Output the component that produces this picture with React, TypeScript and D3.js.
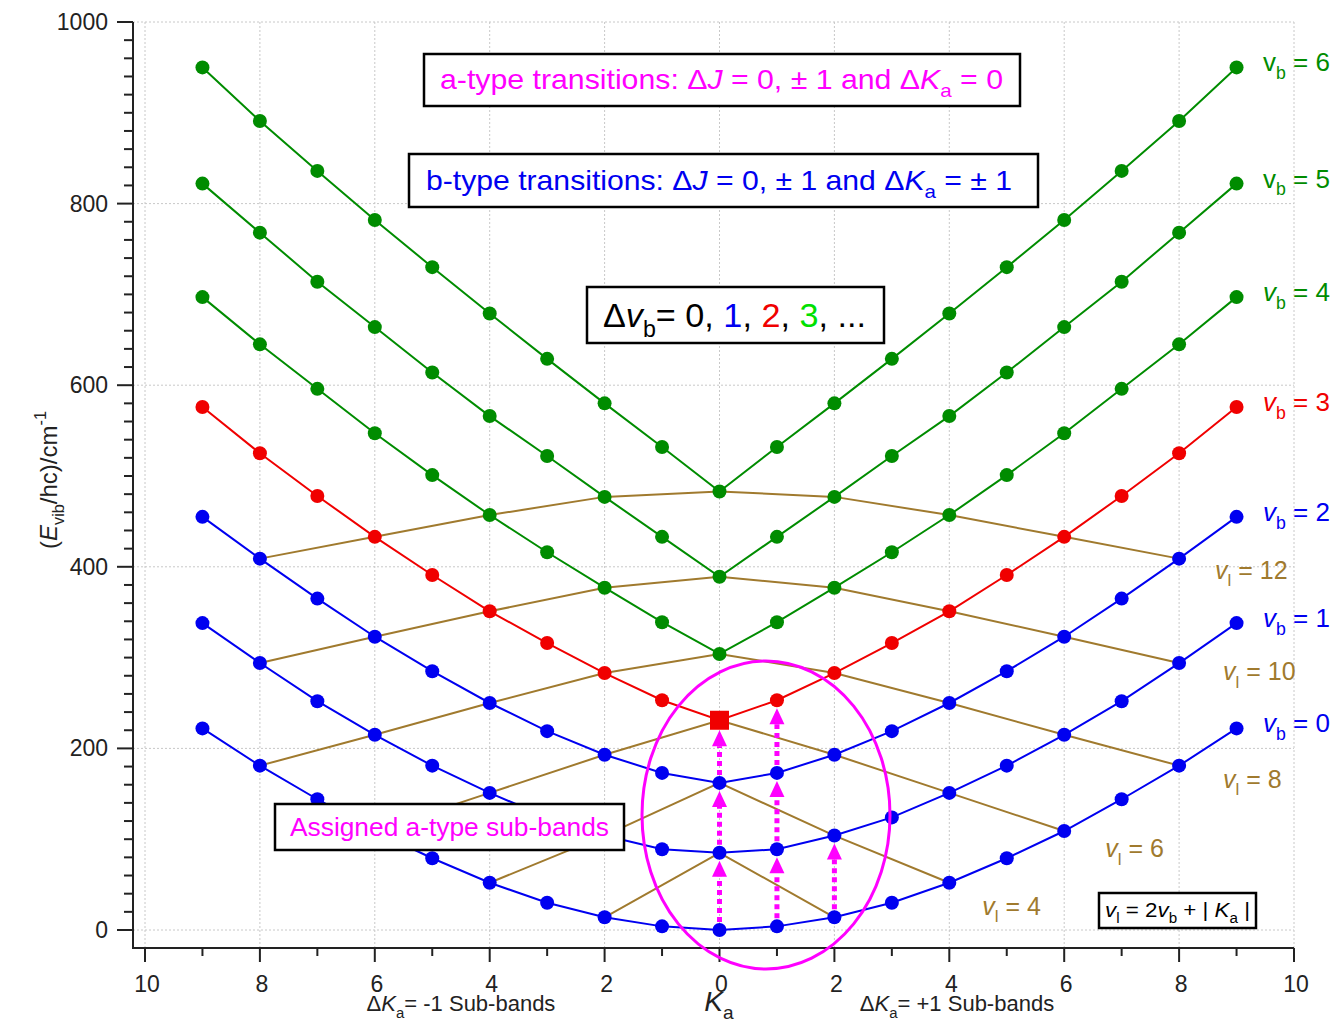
import React from 'react';
import * as d3 from 'd3';

// energy levels (cm-1) for |Ka| = 0..9, one array per vb
const kaValues = [0, 1, 2, 3, 4, 5, 6, 7, 8, 9];
const levelsVb0 = [0, 4, 14, 30, 52, 79, 109, 144, 181, 222];
const levelsVb1 = [85, 89, 104, 124, 151, 181, 215, 252, 294, 338];
const levelsVb2 = [162, 173, 193, 219, 250, 285, 323, 365, 409, 455];
const levelsVb3 = [231, 253, 283, 316, 351, 391, 433, 478, 525, 576];
const levelsVb4 = [304, 339, 377, 416, 457, 501, 547, 596, 645, 697];
const levelsVb5 = [389, 433, 477, 522, 566, 614, 664, 714, 768, 822];
const levelsVb6 = [483, 532, 580, 629, 679, 730, 782, 836, 891, 950];

const vlValues = [2, 4, 6, 8, 10, 12];
const vlLabelled = [4, 6, 8, 10, 12];

// assigned a-type sub-bands: arrow at Ka from vb to vb+1
const arrowKa = [0, 0, 0, 1, 1, 1, 2];
const arrowFromVb = [0, 1, 2, 0, 1, 2, 0];

const xTicks = d3.range(-10, 11, 1);
const yTicks = d3.range(0, 1001, 200);
const yMinorTicks = d3.range(0, 1001, 20);

const BLUE = '#0000f0';
const RED = '#f00000';
const GREEN = '#008c00';
const BROWN = '#a07a2e';
const MAGENTA = '#ff00ff';
const FONT = 'Liberation Sans, Arial, sans-serif';

const levels = [levelsVb0, levelsVb1, levelsVb2, levelsVb3, levelsVb4, levelsVb5, levelsVb6];
const vbColors = [BLUE, BLUE, BLUE, RED, GREEN, GREEN, GREEN];

// label placement (pixel offsets from the series end point)
const vlLabelOffset: Record<number, [number, number]> = {
  4: [33, 32], 6: [41, 26], 8: [44, 22], 10: [44, 17], 12: [36, 20],
};

const x = d3.scaleLinear().domain([-10, 10]).range([145, 1294]);
const y = d3.scaleLinear().domain([0, 1000]).range([930, 22]);
const axisLeft = 133;
const axisBottom = 948;

const line = d3.line<[number, number]>().x(d => x(d[0])).y(d => y(d[1]));

function seriesPoints(arr: number[]): [number, number][] {
  const left = kaValues.slice(1).reverse().map(k => [-k, arr[k]] as [number, number]);
  const right = kaValues.map(k => [k, arr[k]] as [number, number]);
  return [...left, ...right];
}

function vlPoints(vl: number): [number, number][] {
  const pts: [number, number][] = [];
  for (let k = -8; k <= 8; k += 2) {
    const vb = (vl - Math.abs(k)) / 2;
    if (vb >= 0 && vb < levels.length) pts.push([k, levels[vb][Math.abs(k)]]);
  }
  return pts;
}

type Part = { t: string; sub?: boolean; sup?: boolean; it?: boolean; fill?: string };

function Rich(props: {
  x: number; y: number; size: number; parts: Part[]; fill?: string;
  anchor?: string; length?: number; transform?: string;
}) {
  const { size } = props;
  let shift = 0;
  return (
    <text x={props.x} y={props.y} fontSize={size} fill={props.fill || '#000'}
      textAnchor={props.anchor || 'start'} fontFamily={FONT}
      textLength={props.length} lengthAdjust={props.length ? 'spacingAndGlyphs' : undefined}
      transform={props.transform}>
      {props.parts.map((p, i) => {
        const target = p.sub ? size * 0.3 : p.sup ? -size * 0.45 : 0;
        const dy = target - shift;
        shift = target;
        return (
          <tspan key={i} dy={dy} fontSize={p.sub || p.sup ? size * 0.68 : undefined}
            fontStyle={p.it ? 'italic' : undefined} fill={p.fill}>{p.t}</tspan>
        );
      })}
    </text>
  );
}

function Box(props: { x: number; y: number; w: number; h: number }) {
  return <rect x={props.x} y={props.y} width={props.w} height={props.h}
    fill="#fff" stroke="#000" strokeWidth={2.5} />;
}

export default function App() {
  const r = 7;
  return (
    <svg width={1336} height={1019} style={{ position: 'absolute', left: 0, top: 0, background: '#fff' }}>
      {/* grid */}
      <g stroke="#c8c8c8" strokeWidth={1} strokeDasharray="2 2">
        {xTicks.filter(t => t % 2 === 0).map(t => (
          <line key={'gx' + t} x1={x(t)} x2={x(t)} y1={y(1000)} y2={axisBottom} />
        ))}
        {yTicks.map(t => (
          <line key={'gy' + t} x1={axisLeft} x2={x(10)} y1={y(t)} y2={y(t)} />
        ))}
      </g>

      {/* axes */}
      <g stroke="#222" strokeWidth={2}>
        <line x1={axisLeft} x2={axisLeft} y1={y(1000)} y2={axisBottom + 1} />
        <line x1={axisLeft - 1} x2={x(10)} y1={axisBottom} y2={axisBottom} />
        {yMinorTicks.map(t => (
          <line key={'yt' + t} x1={axisLeft - (t % 200 === 0 ? 16 : 9)} x2={axisLeft} y1={y(t)} y2={y(t)} />
        ))}
        {xTicks.map(t => (
          <line key={'xt' + t} x1={x(t)} x2={x(t)} y1={axisBottom} y2={axisBottom + (t % 2 === 0 ? 14 : 8)} />
        ))}
      </g>
      <g fontFamily={FONT} fontSize={23} fill="#222">
        {yTicks.map(t => (
          <text key={'yl' + t} x={axisLeft - 25} y={y(t) + 8} textAnchor="end">{t}</text>
        ))}
        {xTicks.filter(t => t % 2 === 0).map(t => (
          <text key={'xl' + t} x={x(t) + 2} y={992} textAnchor="middle">{Math.abs(t)}</text>
        ))}
      </g>
      <Rich x={0} y={0} size={24} anchor="middle" transform="translate(57,480) rotate(-90)" fill="#222"
        parts={[{ t: '(' }, { t: 'E', it: true }, { t: 'vib', sub: true }, { t: '/hc)/cm' }, { t: '-1', sup: true }]} />
      <Rich x={461} y={1011} size={22} anchor="middle" fill="#222"
        parts={[{ t: 'Δ' }, { t: 'K', it: true }, { t: 'a', sub: true }, { t: '= -1 Sub-bands' }]} />
      <Rich x={957} y={1011} size={22} anchor="middle" fill="#222"
        parts={[{ t: 'Δ' }, { t: 'K', it: true }, { t: 'a', sub: true }, { t: '= +1 Sub-bands' }]} />
      <Rich x={719} y={1011} size={28} anchor="middle" fill="#222"
        parts={[{ t: 'K', it: true }, { t: 'a', sub: true }]} />

      {/* constant vl lines */}
      <g fill="none" stroke={BROWN} strokeWidth={2}>
        {vlValues.map(vl => <path key={'vl' + vl} d={line(vlPoints(vl)) || ''} />)}
      </g>

      {/* vb series */}
      {levels.map((arr, vb) => (
        <g key={'vb' + vb}>
          <path d={line(seriesPoints(arr)) || ''} fill="none" stroke={vbColors[vb]} strokeWidth={2} />
          {seriesPoints(arr).map(([k, e]) => (
            vb === 3 && k === 0
              ? <rect key={k} x={x(k) - 9.5} y={y(e) - 9.5} width={19} height={19} fill={vbColors[vb]} />
              : <circle key={k} cx={x(k)} cy={y(e)} r={r} fill={vbColors[vb]} />
          ))}
        </g>
      ))}

      {/* arrows */}
      {arrowKa.map((k, i) => {
        const vb = arrowFromVb[i];
        const xs = x(k);
        const y0 = y(levels[vb][k]) - 8;
        const tip = y(levels[vb + 1][k]) + (vb + 1 === 3 && k === 0 ? 10 : 8);
        const base = tip + 16;
        return (
          <g key={'ar' + i}>
            <line x1={xs} x2={xs} y1={y0} y2={base} stroke={MAGENTA} strokeWidth={5} strokeDasharray="5 4" />
            <path d={`M${xs},${tip}L${xs - 7.5},${base}L${xs + 7.5},${base}Z`} fill={MAGENTA} />
          </g>
        );
      })}

      <ellipse cx={766} cy={815} rx={124} ry={154} fill="none" stroke={MAGENTA} strokeWidth={3} />

      {/* series labels */}
      {levels.map((arr, vb) => (
        <Rich key={'lb' + vb} x={1263} y={y(arr[9]) + 4} size={26} fill={vbColors[vb]}
          parts={[{ t: 'v', it: vb < 5 }, { t: 'b', sub: true }, { t: ` = ${vb}` }]} />
      ))}
      {vlLabelled.map(vl => {
        const pts = vlPoints(vl);
        const end = pts[pts.length - 1];
        const off = vlLabelOffset[vl];
        return (
          <Rich key={'vll' + vl} x={x(end[0]) + off[0]} y={y(end[1]) + off[1]} size={25} fill={BROWN}
            parts={[{ t: 'v', it: true }, { t: 'l', sub: true }, { t: ` = ${vl}` }]} />
        );
      })}

      {/* annotation boxes */}
      <Box x={424} y={54} w={596} h={52} />
      <Rich x={440} y={89} size={28} length={563} fill={MAGENTA}
        parts={[{ t: 'a-type transitions: Δ' }, { t: 'J', it: true }, { t: ' = 0, ± 1 and Δ' }, { t: 'K', it: true }, { t: 'a', sub: true }, { t: ' = 0' }]} />

      <Box x={409} y={154} w={629} h={53} />
      <Rich x={426} y={190} size={28} length={586} fill={BLUE}
        parts={[{ t: 'b-type transitions: Δ' }, { t: 'J', it: true }, { t: ' = 0, ± 1 and Δ' }, { t: 'K', it: true }, { t: 'a', sub: true }, { t: ' = ± 1' }]} />

      <Box x={587} y={287} w={297} h={56} />
      <Rich x={603} y={327} size={34} length={263} fill="#000"
        parts={[{ t: 'Δ' }, { t: 'v', it: true }, { t: 'b', sub: true }, { t: '= 0, ' }, { t: '1', fill: BLUE }, { t: ', ' },
          { t: '2', fill: RED }, { t: ', ' }, { t: '3', fill: '#00e000' }, { t: ', ...' }]} />

      <Box x={275} y={804} w={349} h={46} />
      <Rich x={290} y={836} size={26} length={319} fill={MAGENTA} parts={[{ t: 'Assigned a-type sub-bands' }]} />

      <Box x={1099} y={893} w={157} h={35} />
      <Rich x={1105} y={917} size={21} length={145} fill="#000"
        parts={[{ t: 'v', it: true }, { t: 'l', sub: true }, { t: ' = 2' }, { t: 'v', it: true }, { t: 'b', sub: true },
          { t: ' + | ' }, { t: 'K', it: true }, { t: 'a', sub: true }, { t: ' |' }]} />
    </svg>
  );
}
